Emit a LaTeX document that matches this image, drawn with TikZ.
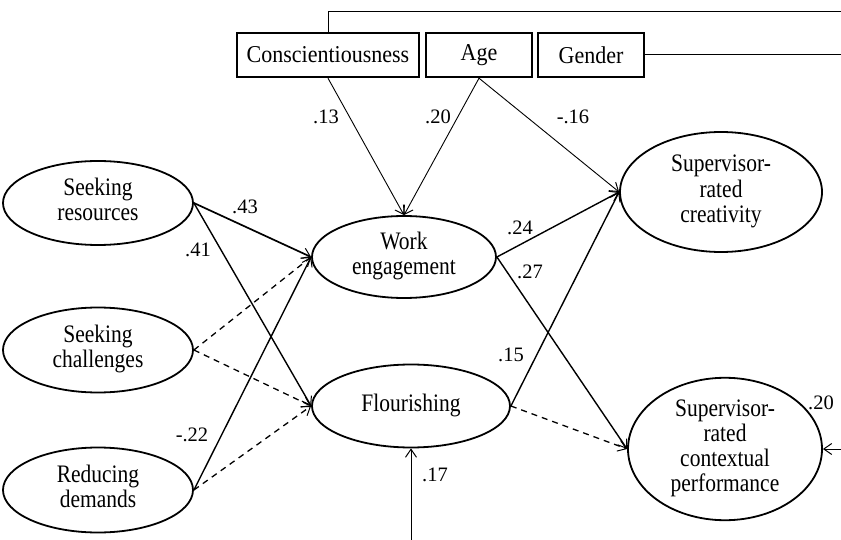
\documentclass[tikz,border=0pt]{standalone}
\usepackage{graphicx}
\usepackage{fontspec}
\setmainfont{Liberation Serif}
\usetikzlibrary{shapes.geometric,arrows.meta}
\newcommand{\boxtxt}[1]{\scalebox{1}[1.1]{#1}}
\newcommand{\elltxt}[1]{\scalebox{1}[1.17]{\begin{tabular}{@{}c@{}}#1\end{tabular}}}
\begin{document}
\begin{tikzpicture}[x=1pt,y=-1pt,
  box/.style={draw,line width=2.4pt,minimum height=44pt,inner sep=0pt,font=\fontsize{22}{24}\selectfont},
  ell/.style={draw,ellipse,line width=1.8pt,inner sep=0pt,font=\fontsize{21.5}{21.5}\selectfont},
  lab/.style={font=\fontsize{20.5}{24}\selectfont,inner sep=0pt},
  tip/.style={-{Straight Barb[length=8pt,width=11pt,line width=1pt]}},
  thinarr/.style={tip,line width=0.9pt},
  arr/.style={tip,line width=1.4pt},
  darr/.style={tip,line width=1.3pt,dash pattern=on 6pt off 5pt},
  plain/.style={line width=1pt}]
\useasboundingbox (0,0) rectangle (841,540);
% boxes
\node[box,minimum width=182pt] (con) at (328,55) {\boxtxt{Conscientiousness}};
\node[box,minimum width=106pt] (age) at (479,55) {\boxtxt{Age}};
\node[box,minimum width=106pt] (gen) at (591,55) {\boxtxt{Gender}};
% ellipses
\node[ell,minimum width=190pt,minimum height=84pt] (sr) at (98,203) {\elltxt{Seeking\\resources}};
\node[ell,minimum width=190pt,minimum height=85pt] (sc) at (98,350) {\elltxt{Seeking\\challenges}};
\node[ell,minimum width=190pt,minimum height=85pt] (rd) at (98,490) {\elltxt{Reducing\\demands}};
\node[ell,minimum width=184pt,minimum height=82pt] (we) at (404,257) {\elltxt{Work\\engagement}};
\node[ell,minimum width=198pt,minimum height=83pt] (fl) at (411,406) {\elltxt{Flourishing}};
\node[ell,minimum width=202pt,minimum height=120pt] (cr) at (721,192) {\elltxt{Supervisor-\\rated\\creativity}};
\node[ell,minimum width=194pt,minimum height=128pt] (cp) at (725,449) {\elltxt{Supervisor-\\rated\\contextual\\performance}};
% free ends
\coordinate (topr) at (841,12);
\coordinate (genr) at (841,55);
\coordinate (bot) at (411,540);
\coordinate (right) at (841,449);
% covariate lines
\draw[plain] (con.north) -- (con.north |- topr) -- (topr);
\draw[plain] (gen.east) -- (genr);
\draw[thinarr] (con.south) -- (we.north);
\draw[thinarr] (age.south) -- (we.north);
\draw[thinarr] (age.south) -- (cr.west);
% predictors
\draw[arr,line width=1.7pt] (sr.east) -- (we.west);
\draw[arr] (sr.east) -- (fl.west);
\draw[darr] (sc.east) -- (we.west);
\draw[darr] (sc.east) -- (fl.west);
\draw[arr] (rd.east) -- (we.west);
\draw[darr] (rd.east) -- (fl.west);
% outcomes
\draw[arr] (we.east) -- (cr.west);
\draw[arr] (we.east) -- (cp.west);
\draw[arr] (fl.east) -- (cr.west);
\draw[darr] (fl.east) -- (cp.west);
\draw[thinarr] (bot) -- (fl.south);
\draw[thinarr] (right) -- (cp.east);
% labels
\node[lab] (l13) at (326,117) {.13};
\node[lab] (l20) at (438,117) {.20};
\node[lab] (l16) at (573,117) {-.16};
\node[lab] (l43) at (245,207) {.43};
\node[lab] (l41) at (198,250) {.41};
\node[lab] (l22) at (192,435) {-.22};
\node[lab] (l24) at (520,228) {.24};
\node[lab] (l27) at (530,272) {.27};
\node[lab] (l15) at (511,355) {.15};
\node[lab] (l17) at (435,475) {.17};
\node[lab] (l20b) at (821,403) {.20};
\end{tikzpicture}
\end{document}
